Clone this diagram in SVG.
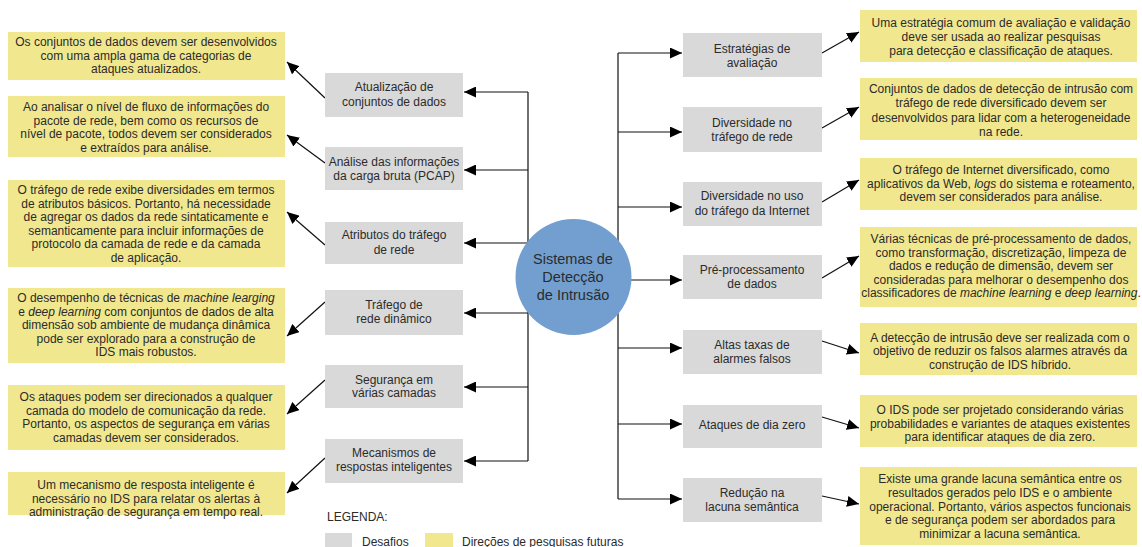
<svg xmlns="http://www.w3.org/2000/svg" width="1142" height="547" viewBox="0 0 1142 547">
<defs>
<marker id="ah" markerUnits="userSpaceOnUse" markerWidth="12" markerHeight="11" refX="12" refY="5.5" orient="auto">
<path d="M0,0 L12,5.5 L0,11 z" fill="#000"/>
</marker>
<style>
text{font-family:"Liberation Sans",Arial,sans-serif;font-size:12px;fill:#2b2b2b;text-anchor:middle}
.g{fill:#d9d9d9}
.y{fill:#f1e78f}
.c{fill:none;stroke:#111;stroke-width:1.2}
.a{fill:none;stroke:#111;stroke-width:1.2;marker-end:url(#ah)}
.l{text-anchor:start}
.big{font-size:14.5px}
</style>
</defs>
<rect width="1142" height="547" fill="#fff"/>

<g id="connectors">
<line class="c" x1="528" y1="92" x2="528" y2="461"/>
<line class="c" x1="618" y1="53" x2="618" y2="499"/>
<line class="a" x1="528" y1="92" x2="464" y2="92"/>
<line class="a" x1="528" y1="170" x2="464" y2="170"/>
<line class="a" x1="528" y1="243" x2="464" y2="243"/>
<line class="a" x1="528" y1="313" x2="464" y2="313"/>
<line class="a" x1="528" y1="387" x2="464" y2="387"/>
<line class="a" x1="528" y1="461" x2="464" y2="461"/>
<line class="a" x1="618" y1="53" x2="682" y2="53"/>
<line class="a" x1="618" y1="132" x2="682" y2="132"/>
<line class="a" x1="618" y1="207" x2="682" y2="207"/>
<line class="a" x1="618" y1="280" x2="682" y2="280"/>
<line class="a" x1="618" y1="348" x2="682" y2="348"/>
<line class="a" x1="618" y1="424" x2="682" y2="424"/>
<line class="a" x1="618" y1="499" x2="682" y2="499"/>
<line class="a" x1="325" y1="98" x2="287" y2="62"/>
<line class="a" x1="325" y1="163" x2="287" y2="135"/>
<line class="a" x1="325" y1="245" x2="287" y2="212"/>
<line class="a" x1="325" y1="302" x2="287" y2="336"/>
<line class="a" x1="325" y1="380" x2="287" y2="414"/>
<line class="a" x1="325" y1="458" x2="287" y2="493"/>
<line class="a" x1="822" y1="53" x2="859" y2="32"/>
<line class="a" x1="822" y1="128" x2="859" y2="107"/>
<line class="a" x1="822" y1="202" x2="859" y2="180"/>
<line class="a" x1="822" y1="278" x2="859" y2="256"/>
<line class="a" x1="822" y1="341" x2="859" y2="353"/>
<line class="a" x1="822" y1="417" x2="859" y2="428"/>
<line class="a" x1="822" y1="496" x2="859" y2="504"/>
</g>

<g id="center">
<circle cx="573.5" cy="277" r="58" fill="#729fcf"/>
<text class="big" x="573" y="264">Sistemas de</text>
<text class="big" x="573" y="282">Detecção</text>
<text class="big" x="573" y="300">de Intrusão</text>
</g>

<g id="d1"><rect class="g" x="325" y="73" width="138" height="44"/><text x="394" y="91">Atualização de</text><text x="394" y="106">conjuntos de dados</text></g>
<g id="d2"><rect class="g" x="325" y="147" width="138" height="43"/><text x="394" y="166">Análise das informações</text><text x="394" y="180">da carga bruta (PCAP)</text></g>
<g id="d3"><rect class="g" x="325" y="222" width="138" height="42"/><text x="394" y="239">Atributos do tráfego</text><text x="394" y="254">de rede</text></g>
<g id="d4"><rect class="g" x="325" y="290" width="138" height="45"/><text x="394" y="309">Tráfego de</text><text x="394" y="323">rede dinâmico</text></g>
<g id="d5"><rect class="g" x="325" y="365" width="138" height="43"/><text x="394" y="384">Segurança em</text><text x="394" y="397">várias camadas</text></g>
<g id="d6"><rect class="g" x="325" y="439" width="138" height="44"/><text x="394" y="457">Mecanismos de</text><text x="394" y="471">respostas inteligentes</text></g>

<g id="d7"><rect class="g" x="683" y="33" width="139" height="44"/><text x="752" y="53">Estratégias de</text><text x="752" y="67">avaliação</text></g>
<g id="d8"><rect class="g" x="683" y="107" width="139" height="45"/><text x="752" y="127">Diversidade no</text><text x="752" y="141">tráfego de rede</text></g>
<g id="d9"><rect class="g" x="683" y="182" width="139" height="44"/><text x="752" y="200">Diversidade no uso</text><text x="752" y="215">do tráfego da Internet</text></g>
<g id="d10"><rect class="g" x="683" y="255" width="139" height="44"/><text x="752" y="274">Pré-processamento</text><text x="752" y="288">de dados</text></g>
<g id="d11"><rect class="g" x="683" y="330" width="139" height="44"/><text x="752" y="349">Altas taxas de</text><text x="752" y="363">alarmes falsos</text></g>
<g id="d12"><rect class="g" x="683" y="405" width="139" height="43"/><text x="752" y="429">Ataques de dia zero</text></g>
<g id="d13"><rect class="g" x="683" y="478" width="139" height="44"/><text x="752" y="497">Redução na</text><text x="752" y="511">lacuna semântica</text></g>

<g id="p1"><rect class="y" x="8" y="32" width="277" height="48"/>
<text x="146" y="46">Os conjuntos de dados devem ser desenvolvidos</text>
<text x="146" y="59.5">com uma ampla gama de categorias de</text>
<text x="146" y="73">ataques atualizados.</text></g>
<g id="p2"><rect class="y" x="8" y="96" width="277" height="61"/>
<text x="146" y="111">Ao analisar o nível de fluxo de informações do</text>
<text x="146" y="124.7">pacote de rede, bem como os recursos de</text>
<text x="146" y="138.4">nível de pacote, todos devem ser considerados</text>
<text x="146" y="152">e extraídos para análise.</text></g>
<g id="p3"><rect class="y" x="8" y="180" width="277" height="87"/>
<text x="146" y="194">O tráfego de rede exibe diversidades em termos</text>
<text x="146" y="207.5">de atributos básicos. Portanto, há necessidade</text>
<text x="146" y="221">de agregar os dados da rede sintaticamente e</text>
<text x="146" y="234.5">semanticamente para incluir informações de</text>
<text x="146" y="248">protocolo da camada de rede e da camada</text>
<text x="146" y="261.5">de aplicação.</text></g>
<g id="p4"><rect class="y" x="8" y="288" width="277" height="75"/>
<text x="146" y="302">O desempenho de técnicas de <tspan font-style="italic">machine learging</tspan></text>
<text x="146" y="315.5">e <tspan font-style="italic">deep learning</tspan> com conjuntos de dados de alta</text>
<text x="146" y="329">dimensão sob ambiente de mudança dinâmica</text>
<text x="146" y="342.5">pode ser explorado para a construção de</text>
<text x="146" y="356">IDS mais robustos.</text></g>
<g id="p5"><rect class="y" x="8" y="385" width="277" height="65"/>
<text x="146" y="401">Os ataques podem ser direcionados a qualquer</text>
<text x="146" y="414.5">camada do modelo de comunicação da rede.</text>
<text x="146" y="428">Portanto, os aspectos de segurança em várias</text>
<text x="146" y="441.5">camadas devem ser considerados.</text></g>
<g id="p6"><rect class="y" x="8" y="472" width="277" height="43"/>
<text x="146" y="489">Um mecanismo de resposta inteligente é</text>
<text x="146" y="502.5">necessário no IDS para relatar os alertas à</text>
<text x="146" y="516">administração de segurança em tempo real.</text></g>

<g id="p7"><rect class="y" x="860" y="10" width="277" height="52"/>
<text x="1001" y="27">Uma estratégia comum de avaliação e validação</text>
<text x="1001" y="41">deve ser usada ao realizar pesquisas</text>
<text x="1001" y="55">para detecção e classificação de ataques.</text></g>
<g id="p8"><rect class="y" x="860" y="78" width="277" height="62"/>
<text x="1001" y="93">Conjuntos de dados de detecção de intrusão com</text>
<text x="1001" y="107.3">tráfego de rede diversificado devem ser</text>
<text x="1001" y="121.6">desenvolvidos para lidar com a heterogeneidade</text>
<text x="1001" y="136">na rede.</text></g>
<g id="p9"><rect class="y" x="860" y="158" width="277" height="52"/>
<text x="1001" y="174">O tráfego de Internet diversificado, como</text>
<text x="1001" y="188">aplicativos da Web, <tspan font-style="italic">logs</tspan> do sistema e roteamento,</text>
<text x="1001" y="201">devem ser considerados para análise.</text></g>
<g id="p10"><rect class="y" x="860" y="227" width="277" height="80"/>
<text x="1001" y="243">Várias técnicas de pré-processamento de dados,</text>
<text x="1001" y="256.5">como transformação, discretização, limpeza de</text>
<text x="1001" y="270">dados e redução de dimensão, devem ser</text>
<text x="1001" y="283.5">consideradas para  melhorar o desempenho dos</text>
<text x="1001" y="297">classificadores de <tspan font-style="italic">machine learning</tspan> e <tspan font-style="italic">deep learning</tspan>.</text></g>
<g id="p11"><rect class="y" x="860" y="323" width="277" height="52"/>
<text x="1000" y="341.5">A detecção de intrusão deve ser realizada com o</text>
<text x="1000" y="355">objetivo de reduzir os falsos alarmes através da</text>
<text x="1000" y="368.5">construção de IDS híbrido.</text></g>
<g id="p12"><rect class="y" x="860" y="395" width="277" height="52"/>
<text x="1000" y="414">O IDS pode ser projetado considerando várias</text>
<text x="1000" y="427.5">probabilidades e variantes de ataques existentes</text>
<text x="1000" y="441">para identificar ataques de dia zero.</text></g>
<g id="p13"><rect class="y" x="860" y="467" width="277" height="78"/>
<text x="1000" y="483">Existe uma grande lacuna semântica entre os</text>
<text x="1000" y="497">resultados gerados pelo IDS e o ambiente</text>
<text x="1000" y="510.5">operacional. Portanto, vários aspectos funcionais</text>
<text x="1000" y="524">e de segurança podem ser abordados para</text>
<text x="1000" y="538">minimizar a lacuna semântica.</text></g>

<g id="legend">
<text class="l" x="327" y="521">LEGENDA:</text>
<rect class="g" x="325" y="533" width="27" height="14"/>
<text class="l" x="362" y="546">Desafios</text>
<rect class="y" x="425" y="533" width="28" height="14"/>
<text class="l" x="462" y="546">Direções de pesquisas futuras</text>
</g>
</svg>
